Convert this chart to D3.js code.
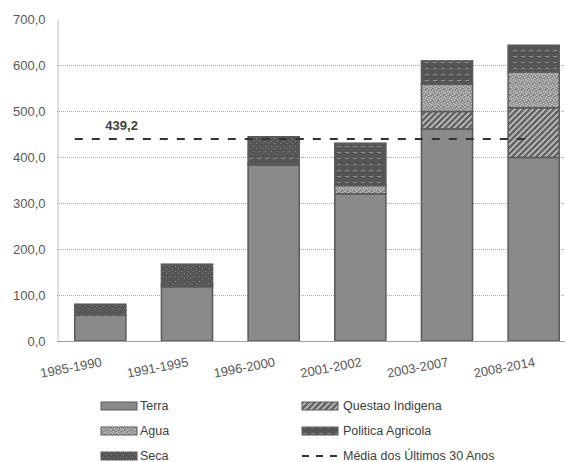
<!DOCTYPE html>
<html><head><meta charset="utf-8">
<script src="https://cdn.jsdelivr.net/npm/d3@7"></script>
<style>body{margin:0;background:#fff;} text{font-family:"Liberation Sans",Arial,sans-serif;}</style>
</head><body>
<svg id="chart" width="565" height="462"></svg>
<script>
const categories = ["1985-1990","1991-1995","1996-2000","2001-2002","2003-2007","2008-2014"];
const terra    = [56, 118, 382, 320, 461, 399];
const questao  = [0, 0, 0, 0, 38, 108];
const agua     = [0, 0, 3, 18, 59, 78];
const politica = [10, 4, 22, 90, 51, 58];
const seca     = [14, 45, 37, 2, 0, 0];
const media = 439.2;
const mediaLabel = "439,2";
const yTicks = [0,100,200,300,400,500,600,700];
const seriesNames = ["Terra","Questao Indigena","Agua","Politica Agricola","Seca"];
const seriesKeys = ["terra","questao","agua","politica","seca"];
const mediaName = "Média dos Últimos 30 Anos";

const svg = d3.select("#chart");
const defs = svg.append("defs");

function pat(id, w, h, bg, draw){
  const p = defs.append("pattern").attr("id",id).attr("patternUnits","userSpaceOnUse").attr("width",w).attr("height",h);
  p.append("rect").attr("width",w).attr("height",h).attr("fill",bg);
  draw(p);
}
pat("p-terra",4,4,"#8a8a8a",p=>{});
pat("p-questao",6,6,"#5e5e5e",p=>{
  p.append("path").attr("d","M-1,7 L7,-1 M-4,4 L4,-4 M2,10 L10,2").attr("stroke","#b5b5b5").attr("stroke-width",2);
});
pat("p-agua",6,6,"#9a9a9a",p=>{
  [[0,0],[3,1],[1,3],[4,4],[2,5],[5,2]].forEach(([x,y])=>p.append("rect").attr("x",x).attr("y",y).attr("width",1).attr("height",1).attr("fill","#cfcfcf"));
  [[2,0],[5,5],[0,4]].forEach(([x,y])=>p.append("rect").attr("x",x).attr("y",y).attr("width",1).attr("height",1).attr("fill","#707070"));
});
pat("p-politica",8,6,"#555555",p=>{
  p.append("rect").attr("x",1).attr("y",2).attr("width",4).attr("height",1).attr("fill","#8e8e8e");
});
pat("p-seca",6,5,"#555555",p=>{
  [[1,1],[4,3]].forEach(([x,y])=>p.append("rect").attr("x",x).attr("y",y).attr("width",1).attr("height",1).attr("fill","#8a8a8a"));
});

const y = d3.scaleLinear().domain([0,700]).range([341,19]);
const x = d3.scaleBand().domain(categories).range([57,577]).paddingInner(0.41).paddingOuter(0.205);

svg.append("g").selectAll("line").data(yTicks.filter(t=>t>0 && t<700)).join("line")
  .attr("x1",57).attr("x2",577).attr("y1",d=>Math.round(y(d))+0.5).attr("y2",d=>Math.round(y(d))+0.5)
  .attr("stroke","#a9a9a9").attr("stroke-dasharray","1,1").attr("stroke-width",1);

const yAxis = d3.axisLeft(y).tickValues(yTicks).tickSize(0).tickPadding(12)
  .tickFormat(d=>d3.format(".1f")(d).replace(".",","));
const gy = svg.append("g").attr("transform","translate(57.5,0)").call(yAxis);
gy.select(".domain").attr("stroke","#bfbfbf");
gy.selectAll("text").attr("fill","#595959").style("font-size","13px");

const rows = categories.map((c,i)=>({cat:c, terra:terra[i], questao:questao[i], agua:agua[i], politica:politica[i], seca:seca[i]}));
const stack = d3.stack().keys(seriesKeys)(rows);
const gBars = svg.append("g");
stack.forEach(layer=>{
  gBars.append("g").selectAll("rect").data(layer.filter(d=>d[1]-d[0]>0)).join("rect")
    .attr("x",d=>x(d.data.cat)).attr("width",x.bandwidth())
    .attr("y",d=>y(d[1])).attr("height",d=>y(d[0])-y(d[1]))
    .attr("fill","url(#p-"+layer.key+")")
    .attr("stroke","#5a5a5a").attr("stroke-width",1.5);
});

svg.append("line").attr("x1",57).attr("x2",577).attr("y1",341.5).attr("y2",341.5).attr("stroke","#a0a0a0").attr("stroke-width",1.2);

const xAxis = d3.axisBottom(x).tickSize(0).tickPadding(0);
const gx = svg.append("g").attr("transform","translate(0,341)").call(xAxis);
gx.select(".domain").remove();
gx.selectAll("text").attr("fill","#595959").style("font-size","13px")
  .attr("text-anchor","end").attr("dy",0)
  .attr("transform","translate(2,25) rotate(-11)");

const meanPts = [[x(categories[0]), media],[x(categories[categories.length-1])+x.bandwidth()/2, media]];
svg.append("path").attr("d", d3.line().x(d=>d[0]).y(d=>y(d[1]))(meanPts))
  .attr("stroke","#333").attr("stroke-width",2).attr("stroke-dasharray","8,9").attr("fill","none");
svg.append("text").attr("x",x(categories[0])+x.bandwidth()/2+5).attr("y",y(media)-9)
  .attr("fill","#404040").style("font-size","13px").style("font-weight","bold").text(mediaLabel);

const legendItems = seriesKeys.map((k,i)=>({key:k,name:seriesNames[i]}));
legendItems.push({key:"media", name:mediaName});
const lg = svg.append("g");
legendItems.forEach((it,i)=>{
  const col = i%2, row = Math.floor(i/2);
  const lx = col===0?101:302, ly = [406,431,456][row];
  const g = lg.append("g").attr("transform",`translate(${lx},${ly})`);
  if(it.key==="media"){
    g.append("line").attr("x1",0).attr("x2",37).attr("y1",0).attr("y2",0)
      .attr("stroke","#333").attr("stroke-width",2).attr("stroke-dasharray","7,7");
  } else {
    g.append("rect").attr("x",0).attr("y",-4).attr("width",36).attr("height",8)
      .attr("fill","url(#p-"+it.key+")").attr("stroke","#5a5a5a").attr("stroke-width",1);
  }
  g.append("text").attr("x",col===0?39:41).attr("y",4).attr("fill","#404040").style("font-size","12.5px").text(it.name);
});
</script>
</body></html>
